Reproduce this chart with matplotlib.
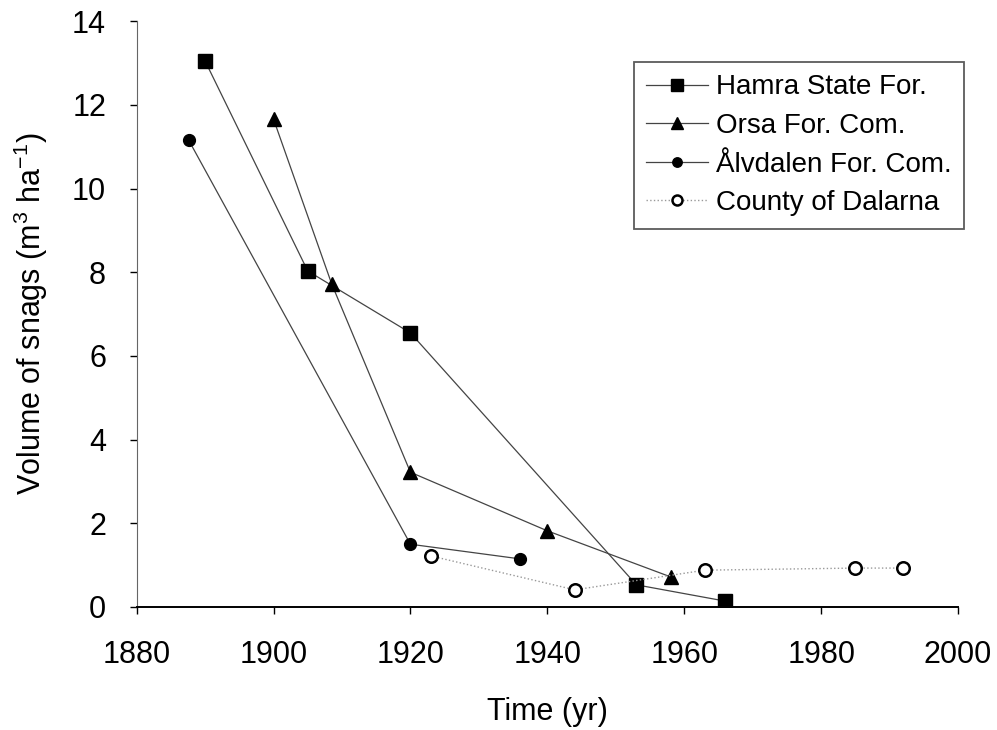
import matplotlib.pyplot as plt

# snag volume (m3 ha-1) by survey year
hamra_years = [1890, 1905, 1920, 1953, 1966]
hamra_vol = [13.05, 8.03, 6.55, 0.53, 0.14]

orsa_years = [1900, 1908.5, 1920, 1940, 1958]
orsa_vol = [11.66, 7.72, 3.22, 1.82, 0.72]

alvdalen_years = [1887.6, 1920, 1936]
alvdalen_vol = [11.16, 1.5, 1.15]

county_years = [1923, 1944, 1963, 1985, 1992]
county_vol = [1.22, 0.41, 0.88, 0.93, 0.93]

x_ticks = [1880, 1900, 1920, 1940, 1960, 1980, 2000]
y_ticks = [0, 2, 4, 6, 8, 10, 12, 14]

plt.rcParams['font.family'] = ['Liberation Sans', 'DejaVu Sans']
plt.rcParams['mathtext.fontset'] = 'custom'
plt.rcParams['mathtext.rm'] = 'Liberation Sans'

fig = plt.figure(figsize=(9.97, 7.3), dpi=100)
ax = fig.add_axes([0.137, 0.1685, 0.824, 0.8025])

line_kw = dict(color='#444444', linewidth=0.9, markerfacecolor='black', markeredgecolor='black')
ax.plot(hamra_years, hamra_vol, marker='s', markersize=10.5, label='Hamra State For.', **line_kw)
ax.plot(orsa_years, orsa_vol, marker='^', markersize=10.5, label='Orsa For. Com.', **line_kw)
ax.plot(alvdalen_years, alvdalen_vol, marker='o', markersize=8.5, label='Ålvdalen For. Com.', **line_kw)
ax.plot(county_years, county_vol, marker='o', markersize=9, linestyle=':', color='#999999',
        linewidth=1.0, markerfacecolor='white', markeredgecolor='black', markeredgewidth=1.8,
        label='County of Dalarna')

ax.set_xlim(1880, 2000)
ax.set_ylim(0, 14)
ax.set_xticks(x_ticks)
ax.set_yticks(y_ticks)
ax.tick_params(labelsize=22, direction='out', length=5, width=1)
ax.tick_params(axis='x', pad=19)
ax.tick_params(axis='y', pad=17)
ax.spines['top'].set_visible(False)
ax.spines['right'].set_visible(False)
ax.spines['left'].set_color('#666666')
ax.spines['bottom'].set_linewidth(1.4)

ax.set_xlabel('Time (yr)', fontsize=22, labelpad=19)
ax.set_ylabel(r'Volume of snags (m$^{\mathrm{3}}$ ha$^{\mathrm{-1}}$)', fontsize=22)
ax.yaxis.set_label_coords(-0.106, 0.5)

leg = ax.legend(loc='upper right', bbox_to_anchor=(964 / 997, 1 - 62 / 730),
                bbox_transform=fig.transFigure, fontsize=20, frameon=True,
                fancybox=False, edgecolor='#333333', handlelength=2.2,
                handletextpad=0.3, borderpad=0.45, borderaxespad=0,
                labelspacing=0.45, markerscale=0.8)
leg.get_frame().set_linewidth(1.3)

fig.savefig('out.png', dpi=100)
